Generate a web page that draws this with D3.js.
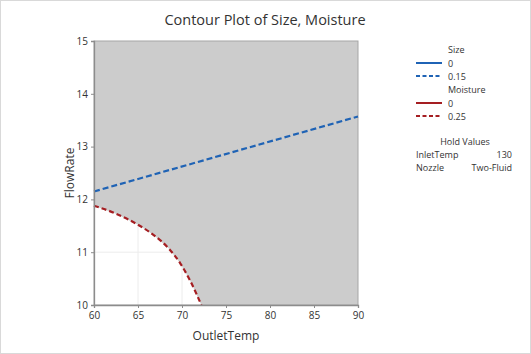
<!DOCTYPE html>
<html>
<head>
<meta charset="utf-8">
<script src="https://cdn.jsdelivr.net/npm/d3@7"></script>
<style>
  body { margin: 0; background: #fff; }
  text { font-family: "Open Sans", "Noto Sans", sans-serif; }
</style>
</head>
<body>
<div id="wrapper"></div>
<script>
// data
const xTicks = [60, 65, 70, 75, 80, 85, 90]
const yTicks = [10, 11, 12, 13, 14, 15]
// Size = 0.15 contour
const sizeTemp = [60, 90]
const sizeFlow = [12.15, 13.57]
// Moisture = 0.25 contour
const moistTemp = [60, 62.5, 65, 66.75, 68.5, 69.8, 70.9, 72.2]
const moistFlow = [11.88, 11.73, 11.52, 11.33, 11.07, 10.79, 10.47, 10.0]
const legendGroups = ["Size", "Moisture"]
const legendLevels = [["0", "0.15"], ["0", "0.25"]]
const holdNames = ["InletTemp", "Nozzle"]
const holdValues = ["130", "Two-Fluid"]

function drawChart() {
  const dimensions = {
    width: 531,
    height: 354,
    margin: { top: 41, right: 173, bottom: 49, left: 94 },
  }
  dimensions.boundedWidth = dimensions.width - dimensions.margin.left - dimensions.margin.right
  dimensions.boundedHeight = dimensions.height - dimensions.margin.top - dimensions.margin.bottom

  const wrapper = d3.select("#wrapper")
    .append("svg")
      .attr("width", dimensions.width)
      .attr("height", dimensions.height)

  wrapper.append("rect")
      .attr("x", 0.5).attr("y", 0.5)
      .attr("width", dimensions.width - 1)
      .attr("height", dimensions.height - 1)
      .attr("fill", "#fff")
      .attr("stroke", "#d9d9d9")

  const bounds = wrapper.append("g")
      .attr("transform", `translate(${dimensions.margin.left},${dimensions.margin.top})`)

  const xScale = d3.scaleLinear()
    .domain([60, 90])
    .range([0, dimensions.boundedWidth])
  const yScale = d3.scaleLinear()
    .domain([10, 15])
    .range([dimensions.boundedHeight, 0])

  // grid
  bounds.append("g").selectAll("line")
    .data(xTicks.slice(1, -1))
    .join("line")
      .attr("x1", d => xScale(d)).attr("x2", d => xScale(d))
      .attr("y1", 0).attr("y2", dimensions.boundedHeight)
      .attr("stroke", "#ececec")
  bounds.append("g").selectAll("line")
    .data(yTicks.slice(1, -1))
    .join("line")
      .attr("x1", 0).attr("x2", dimensions.boundedWidth)
      .attr("y1", d => yScale(d)).attr("y2", d => yScale(d))
      .attr("stroke", "#ececec")

  // shaded region (outside the feasible area)
  const moist = moistTemp.map((t, i) => [t, moistFlow[i]])
  const shade = moist.concat([[90, 10], [90, 15], [60, 15]])
  bounds.append("path")
      .attr("d", d3.line().x(d => xScale(d[0])).y(d => yScale(d[1]))(shade) + "Z")
      .attr("fill", "#cccccc")

  // frame
  bounds.append("rect")
      .attr("width", dimensions.boundedWidth)
      .attr("height", dimensions.boundedHeight)
      .attr("fill", "none")
      .attr("stroke", "#a6a6a6")

  // contour lines
  const line = d3.line().x(d => xScale(d[0])).y(d => yScale(d[1])).curve(d3.curveMonotoneX)
  bounds.append("path")
      .attr("d", line(moist))
      .attr("fill", "none")
      .attr("stroke", "#a51e22")
      .attr("stroke-width", 2.2)
      .attr("stroke-dasharray", "5 3")
  const size = sizeTemp.map((t, i) => [t, sizeFlow[i]])
  bounds.append("path")
      .attr("d", line(size))
      .attr("fill", "none")
      .attr("stroke", "#1f63b5")
      .attr("stroke-width", 2.2)
      .attr("stroke-dasharray", "6 3")

  // axes
  const xAxis = bounds.append("g")
      .attr("transform", `translate(0,${dimensions.boundedHeight})`)
      .call(d3.axisBottom(xScale).tickValues(xTicks).tickFormat(d3.format("d")).tickSize(3).tickPadding(4))
  const yAxis = bounds.append("g")
      .call(d3.axisLeft(yScale).tickValues(yTicks).tickFormat(d3.format("d")).tickSize(3).tickPadding(3))
  ;[xAxis, yAxis].forEach(a => {
    a.select(".domain").attr("stroke", "#8c8c8c").attr("stroke-width", 1.3)
    a.selectAll(".tick line").attr("stroke", "#8c8c8c")
    a.selectAll(".tick text").attr("fill", "#333").style("font-size", "10px")
  })

  bounds.append("text")
      .attr("x", dimensions.boundedWidth / 2)
      .attr("y", dimensions.boundedHeight + 35)
      .attr("text-anchor", "middle")
      .attr("fill", "#333")
      .style("font-size", "12px")
      .text("OutletTemp")
  bounds.append("text")
      .attr("transform", `translate(-20,${dimensions.boundedHeight / 2}) rotate(-90)`)
      .attr("text-anchor", "middle")
      .attr("fill", "#333")
      .style("font-size", "12px")
      .text("FlowRate")

  wrapper.append("text")
      .attr("x", 265)
      .attr("y", 25)
      .attr("text-anchor", "middle")
      .attr("fill", "#333")
      .style("font-size", "14.5px")
      .text("Contour Plot of Size, Moisture")

  // legend
  const legend = wrapper.append("g")
  const colors = ["#1f63b5", "#a51e22"]
  legendGroups.forEach((g, gi) => {
    const top = 52 + gi * 40
    legend.append("text")
        .attr("x", 448).attr("y", top + 1)
        .attr("fill", "#333").style("font-size", "9px")
        .text(g)
    legendLevels[gi].forEach((lv, li) => {
      const y = top + 11 + li * 13
      legend.append("line")
          .attr("x1", 416).attr("x2", 442)
          .attr("y1", y).attr("y2", y)
          .attr("stroke", colors[gi])
          .attr("stroke-width", 2)
          .attr("stroke-dasharray", li ? "4 2.5" : null)
      legend.append("text")
          .attr("x", 448).attr("y", y + 3.5)
          .attr("fill", "#333").style("font-size", "9px")
          .text(lv)
    })
  })
  legend.append("text")
      .attr("x", 465).attr("y", 145)
      .attr("text-anchor", "middle")
      .attr("fill", "#333").style("font-size", "9px")
      .text("Hold Values")
  holdNames.forEach((n, i) => {
    legend.append("text")
        .attr("x", 416).attr("y", 158 + i * 13)
        .attr("fill", "#333").style("font-size", "9px")
        .text(n)
    legend.append("text")
        .attr("x", 512).attr("y", 158 + i * 13)
        .attr("text-anchor", "end")
        .attr("fill", "#333").style("font-size", "9px")
        .text(holdValues[i])
  })
}
drawChart()
</script>
</body>
</html>
